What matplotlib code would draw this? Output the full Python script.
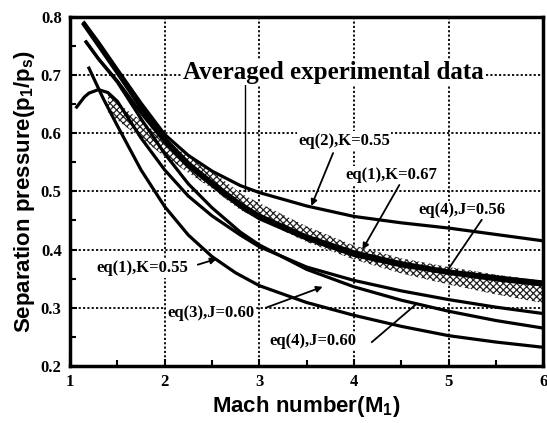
import matplotlib
matplotlib.use("Agg")
import matplotlib.pyplot as plt
import numpy as np

# ---- data ----
M_eq2 = [1.15, 1.3, 1.5, 1.75, 2.0, 2.25, 2.5, 2.8, 3.0, 3.5, 4.0, 4.5, 5.0, 5.5, 6.0]
p_eq2 = [0.79, 0.757, 0.71, 0.652, 0.598, 0.562, 0.535, 0.51, 0.498, 0.475, 0.457, 0.446, 0.437, 0.426, 0.415]

M_eq1a = [1.15, 1.3, 1.5, 1.75, 2.0, 2.25, 2.5, 2.8, 3.0, 3.5, 4.0, 4.5, 5.0, 5.5, 6.0]
p_eq1a = [0.787, 0.752, 0.705, 0.645, 0.59, 0.548, 0.515, 0.478, 0.458, 0.422, 0.395, 0.376, 0.362, 0.352, 0.343]

M_eq4a = [1.17, 1.3, 1.5, 1.75, 2.0, 2.25, 2.5, 2.8, 3.0, 3.5, 4.0, 4.5, 5.0, 5.5, 6.0]
p_eq4a = [0.757, 0.728, 0.69, 0.635, 0.585, 0.543, 0.51, 0.473, 0.453, 0.418, 0.39, 0.372, 0.359, 0.348, 0.339]

M_exp = [1.4, 1.6, 1.75, 2.0, 2.25, 2.5, 2.8, 3.0, 3.5, 4.0, 4.5, 5.0, 5.5, 6.0]
p_exp_hi = [0.668, 0.64, 0.622, 0.59, 0.56, 0.535, 0.497, 0.48, 0.44, 0.407, 0.385, 0.37, 0.357, 0.346]
p_exp_lo = [0.635, 0.61, 0.592, 0.56, 0.532, 0.505, 0.468, 0.452, 0.413, 0.383, 0.359, 0.34, 0.323, 0.308]

M_eq3 = [1.07, 1.15, 1.2, 1.3, 1.4, 1.5, 1.75, 2.0, 2.25, 2.5, 2.8, 3.0, 3.5, 4.0, 4.5, 5.0, 5.5, 6.0]
p_eq3 = [0.645, 0.662, 0.669, 0.675, 0.67, 0.655, 0.592, 0.537, 0.492, 0.458, 0.425, 0.405, 0.37, 0.347, 0.329, 0.314, 0.301, 0.29]

M_eq4b = [1.17, 1.3, 1.5, 1.75, 2.0, 2.25, 2.5, 2.8, 3.0, 3.5, 4.0, 4.5, 5.0, 5.5, 6.0]
p_eq4b = [0.757, 0.728, 0.688, 0.625, 0.565, 0.513, 0.472, 0.43, 0.408, 0.366, 0.336, 0.313, 0.294, 0.278, 0.265]

M_eq1b = [1.2, 1.35, 1.5, 1.75, 2.0, 2.25, 2.5, 2.75, 3.0, 3.5, 4.0, 4.5, 5.0, 5.5, 6.0]
p_eq1b = [0.712, 0.66, 0.613, 0.537, 0.474, 0.425, 0.388, 0.36, 0.338, 0.309, 0.287, 0.268, 0.252, 0.241, 0.232]

x_ticks = [1, 2, 3, 4, 5, 6]
y_ticks = [0.2, 0.3, 0.4, 0.5, 0.6, 0.7, 0.8]

plt.rcParams['mathtext.default'] = 'regular'
fig = plt.figure(figsize=(5.47, 4.23), dpi=100)
ax = fig.add_axes([0.128, 0.135, 0.865, 0.825])

ax.set_xlim(1, 6)
ax.set_ylim(0.2, 0.8)

# grid
for x in [2, 3, 4, 5]:
    ax.axvline(x, color='black', lw=1.3, ls=(0, (1.2, 1.2)), zorder=1)
for y in [0.3, 0.4, 0.5, 0.6, 0.7]:
    ax.axhline(y, color='black', lw=1.3, ls=(0, (1.2, 1.2)), zorder=1)

# experimental band
plt.rcParams['hatch.linewidth'] = 0.9
ax.fill_between(M_exp, p_exp_lo, p_exp_hi, facecolor='white', hatch='xxxxx',
                edgecolor='#222222', lw=0, zorder=2)

lw = 2.3
ax.plot(M_eq2, p_eq2, color='black', lw=lw, zorder=3)
ax.plot(M_eq1a, p_eq1a, color='black', lw=lw + 1.0, zorder=3)
ax.plot(M_eq4a, p_eq4a, color='black', lw=lw, zorder=3)
ax.plot(M_eq3, p_eq3, color='black', lw=lw, zorder=3)
ax.plot(M_eq4b, p_eq4b, color='black', lw=lw, zorder=3)
ax.plot(M_eq1b, p_eq1b, color='black', lw=lw, zorder=3)

tfont = dict(family='Liberation Serif', weight='bold')
box = dict(facecolor='white', edgecolor='none', pad=1.0)

ax.text(2.19, 0.705, 'Averaged experimental data', fontsize=18, va='center', ha='left',
        bbox=box, zorder=5, **tfont)
ax.plot([2.85, 2.85], [0.683, 0.50], color='black', lw=1.0, zorder=4)

def lab(txt, x, y, x0, y0, x1, y1, head=True):
    ax.text(x, y, txt, fontsize=12, va='center', ha='left', bbox=box, zorder=5, **tfont)
    if head:
        ax.annotate('', xy=(x1, y1), xytext=(x0, y0),
                    arrowprops=dict(arrowstyle='-|>', color='black', lw=1.3,
                                    mutation_scale=9, shrinkA=0, shrinkB=0), zorder=4)
    else:
        ax.plot([x0, x1], [y0, y1], color='black', lw=1.3, zorder=4)

lab('eq(2),K=0.55', 3.41, 0.587, 3.78, 0.566, 3.55, 0.475)
lab('eq(1),K=0.67', 3.91, 0.528, 4.48, 0.511, 4.09, 0.40)
lab('eq(4),J=0.56', 4.68, 0.468, 5.35, 0.451, 4.98, 0.362, head=False)
lab('eq(1),K=0.55', 1.28, 0.368, 2.35, 0.374, 2.55, 0.384)
lab('eq(3),J=0.60', 2.03, 0.291, 3.07, 0.30, 3.67, 0.336)
lab('eq(4),J=0.60', 3.11, 0.243, 4.19, 0.241, 4.65, 0.305, head=False)

ax.set_xticks(x_ticks)
ax.set_yticks(y_ticks)
ax.set_xticklabels([str(v) for v in x_ticks], **tfont, fontsize=12)
ax.set_yticklabels([f'{v:.1f}' for v in y_ticks], **tfont, fontsize=12)
ax.set_xticks(np.arange(1.5, 6, 1.0), minor=True)
ax.set_yticks(np.arange(0.25, 0.8, 0.1), minor=True)
ax.tick_params(which='both', direction='in', width=1.5, color='black')
ax.tick_params(which='major', length=5, pad=6)
ax.tick_params(which='minor', length=4)
for s in ax.spines.values():
    s.set_linewidth(2.5)

ax.set_xlabel('Mach number(M$_1$)', family='Liberation Sans', weight='bold', fontsize=16, labelpad=3)
ax.set_ylabel('Separation pressure(p$_1$/p$_s$)', family='Liberation Sans', weight='bold', fontsize=16, labelpad=3)

fig.savefig('out.png', dpi=100)
